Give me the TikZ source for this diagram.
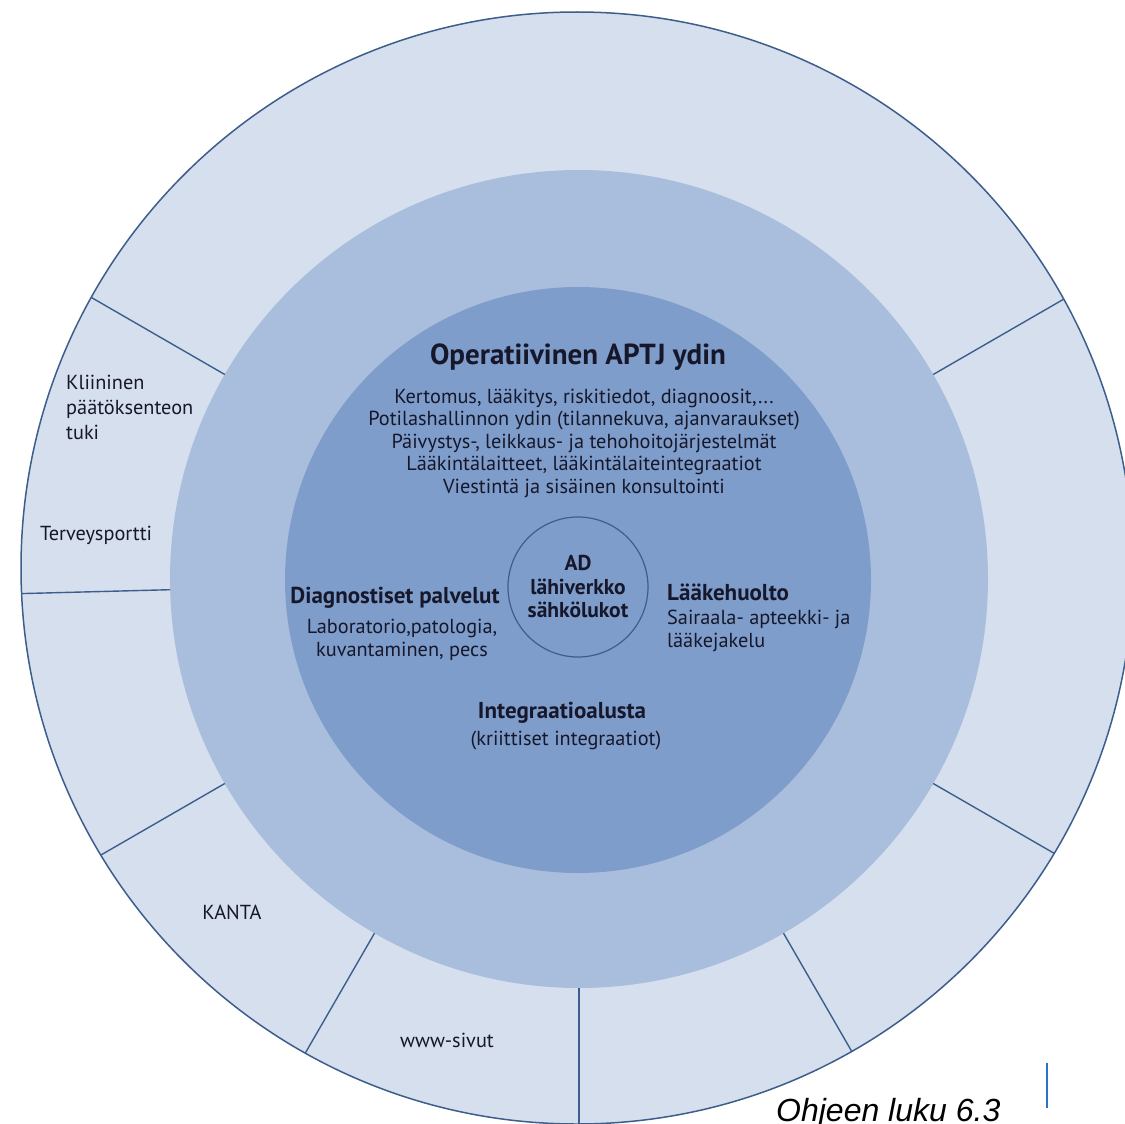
\documentclass[tikz,border=0pt]{standalone}
\usepackage{fontspec}
\setmainfont{PT Sans}
\newfontfamily\notefont{Liberation Sans}
\definecolor{ringout}{HTML}{D6DFED}
\definecolor{ringmid}{HTML}{A9BEDD}
\definecolor{ringin}{HTML}{7E9DCB}
\definecolor{edgeblue}{HTML}{3D5E8C}
\definecolor{textnavy}{HTML}{16172A}
\definecolor{markblue}{HTML}{2A74C4}

\begin{document}
\begin{tikzpicture}[x=1pt,y=-1pt,
    ringtext/.style={text=textnavy, inner sep=0pt, align=center, font=\fontsize{20.3}{22.5}\selectfont},
    subhead/.style={ringtext, font=\fontsize{23}{24}\selectfont\bfseries},
    divider/.style={draw=edgeblue, line width=1.4pt}
    ]
  \useasboundingbox (0,0) rectangle (1125,1124);
  \clip (0,0) rectangle (1125,1124);
  \fill[white] (0,0) rectangle (1125,1124);

  \coordinate (hub) at (579,579);
  \begin{scope}
    \clip (577,568) circle (556pt);
    \fill[ringout] (577,568) circle (556pt);
    \fill[ringmid] (hub) circle (409pt);
    \foreach \a in {30,150,181.5,210,240,270,300,330}
      \draw[divider] ([shift={(\a:409pt)}]hub) -- ([shift={(\a:600pt)}]hub);
  \end{scope}
  \draw[edgeblue, line width=1.5pt] (577,568) circle (556pt);
  \fill[ringin] (578,580) circle (293pt);

  \node [subhead, font=\fontsize{29}{32}\selectfont\bfseries] (core) at (578,357) {Operatiivinen APTJ ydin};
  \node [ringtext] (corelist) at (584,443) {Kertomus, lääkitys, riskitiedot, diagnoosit,...\\
    Potilashallinnon ydin (tilannekuva, ajanvaraukset)\\
    Päivystys-, leikkaus- ja tehohoitojärjestelmät\\
    Lääkintälaitteet, lääkintälaiteintegraatiot\\
    Viestintä ja sisäinen konsultointi};

  \node [subhead, circle, draw=edgeblue, line width=1.2pt, minimum size=140pt, font=\fontsize{21.5}{23.5}\selectfont\bfseries] (ad) at (578,587) {AD\\lähiverkko\\sähkölukot};

  \node [subhead] (diag) at (395,598) {Diagnostiset palvelut};
  \node [ringtext] (diaglist) at (402,640) {Laboratorio,patologia,\\kuvantaminen, pecs};

  \node [subhead, anchor=west] (laake) at (667,592) {Lääkehuolto};
  \node [ringtext, anchor=west, align=left] (laakelist) at (667,631) {Sairaala- apteekki- ja\\lääkejakelu};

  \node [subhead] (integ) at (562,713) {Integraatioalusta};
  \node [ringtext] (integlist) at (566,740) {(kriittiset integraatiot)};

  \node [ringtext, anchor=west, align=left, font=\fontsize{20.3}{25}\selectfont] (kliin) at (66,407) {Kliininen\\päätöksenteon\\tuki};
  \node [ringtext, anchor=west] (terv) at (40,535) {Terveysportti};
  \node [ringtext] (kanta) at (232,912) {KANTA};
  \node [ringtext] (www) at (447,1040) {www-sivut};

  \node [anchor=base west, inner sep=0pt, font=\notefont\itshape\fontsize{32}{36}\selectfont] (luku) at (776,1121) {Ohjeen luku 6.3};
  \draw [markblue, line width=2pt] (1047,1063) -- (1047,1108);
\end{tikzpicture}
\end{document}
